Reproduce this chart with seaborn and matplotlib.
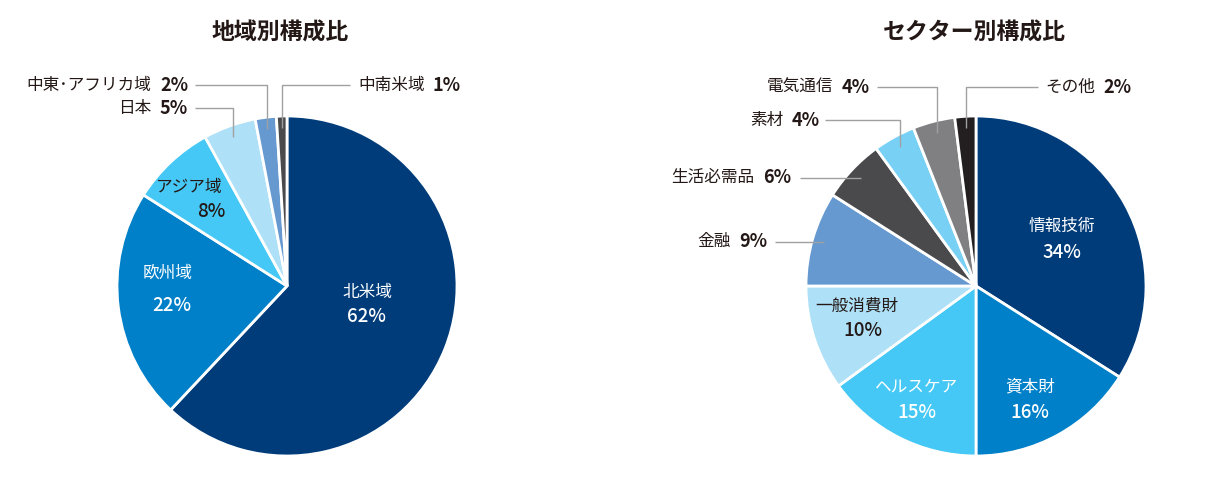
import matplotlib
matplotlib.use("Agg")
import matplotlib.pyplot as plt
import seaborn as sns
import numpy as np

# ---------------- data ----------------
region_labels = ["北米域", "欧州域", "アジア域", "日本", "中東･アフリカ域", "中南米域"]
region_values = [62, 22, 8, 5, 2, 1]

sector_labels = ["情報技術", "資本財", "ヘルスケア", "一般消費財", "金融",
                 "生活必需品", "素材", "電気通信", "その他"]
sector_values = [34, 16, 15, 10, 9, 6, 4, 4, 2]

region_title = "地域別構成比"
sector_title = "セクター別構成比"

# ---------------- style ----------------
sns.set_theme(style="white")
plt.rcParams["font.family"] = ["Noto Sans CJK JP", "DejaVu Sans"]

NAVY = "#003C7A"
BLUE = "#0080C8"
SKY = "#45C8F5"
PALE = "#AEE0F7"
STEEL = "#6699D0"
DGRAY = "#4A4A4C"
LSKY = "#78D1F5"
GRAY = "#808083"
BLACK = "#231F20"
TXT = "#231815"
LINE = "#A0A0A0"

region_colors = sns.color_palette([NAVY, BLUE, SKY, PALE, STEEL, DGRAY])
sector_colors = sns.color_palette([NAVY, BLUE, SKY, PALE, STEEL, DGRAY, LSKY, GRAY, BLACK])

W, H = 1208, 490
fig = plt.figure(figsize=(W / 100, H / 100), dpi=100)
fig.patch.set_facecolor("white")

R = 170


def make_ax(cx, cy):
    ax = fig.add_axes([(cx - R) / W, (H - cy - R) / H, 2 * R / W, 2 * R / H])
    ax.set_xlim(-1, 1)
    ax.set_ylim(-1, 1)
    ax.set_axis_off()
    return ax


def draw_pie(ax, values, colors):
    ax.pie(values, colors=colors, startangle=90, counterclock=False, radius=1,
           wedgeprops=dict(edgecolor="white", linewidth=2))
    ax.set_xlim(-1, 1)
    ax.set_ylim(-1, 1)
    ax.set_aspect("equal")


def mid_point(values, i, r=0.93):
    total = sum(values)
    cum = sum(values[:i]) + values[i] / 2
    ang = np.deg2rad(90 - cum / total * 360)
    return r * np.cos(ang), r * np.sin(ang)


def inside(ax, name, pct, pos_name, pos_pct, color):
    ax.text(*pos_name, name, ha="center", va="center", fontsize=12, color=color)
    ax.text(*pos_pct, pct, ha="center", va="center", fontsize=13.5, color=color,
            fontweight="medium")


def outside(ax, values, i, name, pct, tx, ty, line_start, side="left"):
    ax_, ay_ = mid_point(values, i)
    if ty is None:
        ty = ay_
    # leader line: horizontal then vertical into the slice
    ax.plot([line_start, ax_, ax_], [ty, ty, ay_], color=LINE, lw=1,
            clip_on=False, solid_capstyle="butt")
    if side == "left":
        t = ax.text(tx, ty, pct, ha="right", va="center", fontsize=13,
                    fontweight="bold", color=TXT, clip_on=False)
        ax.annotate(name, xy=(0, 0.5), xycoords=t, xytext=(-6, 0),
                    textcoords="offset points", ha="right", va="center",
                    fontsize=12, color=TXT)
    else:
        t = ax.text(tx, ty, name, ha="left", va="center", fontsize=12,
                    color=TXT, clip_on=False)
        ax.annotate(pct, xy=(1, 0.5), xycoords=t, xytext=(6, 0),
                    textcoords="offset points", ha="left", va="center",
                    fontsize=13, fontweight="bold", color=TXT)


# ---------------- left pie ----------------
axL = make_ax(287, 286)
draw_pie(axL, region_values, region_colors)
fig.text(280 / W, 1 - 33 / H, region_title, ha="center", va="center",
         fontsize=16.5, fontweight="bold", color=TXT)

inside(axL, region_labels[0], f"{region_values[0]}%", (0.47, -0.04), (0.47, -0.18), "white")
inside(axL, region_labels[1], f"{region_values[1]}%", (-0.70, 0.075), (-0.68, -0.115), "white")
inside(axL, region_labels[2], f"{region_values[2]}%", (-0.576, 0.582), (-0.447, 0.441), TXT)

outside(axL, region_values, 4, region_labels[4], f"{region_values[4]}%", -0.582, 1.182, -0.541)
outside(axL, region_values, 3, region_labels[3], f"{region_values[3]}%", -0.582, 1.047, -0.541)
outside(axL, region_values, 5, region_labels[5], f"{region_values[5]}%", 0.418, 1.182, 0.37, side="right")

# ---------------- right pie ----------------
axR = make_ax(976, 286)
draw_pie(axR, sector_values, sector_colors)
fig.text(974 / W, 1 - 33 / H, sector_title, ha="center", va="center",
         fontsize=16.5, fontweight="bold", color=TXT)

inside(axR, sector_labels[0], f"{sector_values[0]}%", (0.506, 0.35), (0.506, 0.2), "white")
inside(axR, sector_labels[1], f"{sector_values[1]}%", (0.318, -0.594), (0.318, -0.747), "white")
inside(axR, sector_labels[2], f"{sector_values[2]}%", (-0.347, -0.594), (-0.347, -0.747), "white")
inside(axR, sector_labels[3], f"{sector_values[3]}%", (-0.7, -0.118), (-0.665, -0.259), TXT)

outside(axR, sector_values, 7, sector_labels[7], f"{sector_values[7]}%", -0.624, 1.17, -0.582)
outside(axR, sector_values, 6, sector_labels[6], f"{sector_values[6]}%", -0.918, 0.976, -0.888)
outside(axR, sector_values, 5, sector_labels[5], f"{sector_values[5]}%", -1.088, None, -1.035)
outside(axR, sector_values, 4, sector_labels[4], f"{sector_values[4]}%", -1.229, None, -1.18)
outside(axR, sector_values, 8, sector_labels[8], f"{sector_values[8]}%", 0.406, 1.17, 0.365, side="right")

fig.savefig("out.png", dpi=100, facecolor="white")
